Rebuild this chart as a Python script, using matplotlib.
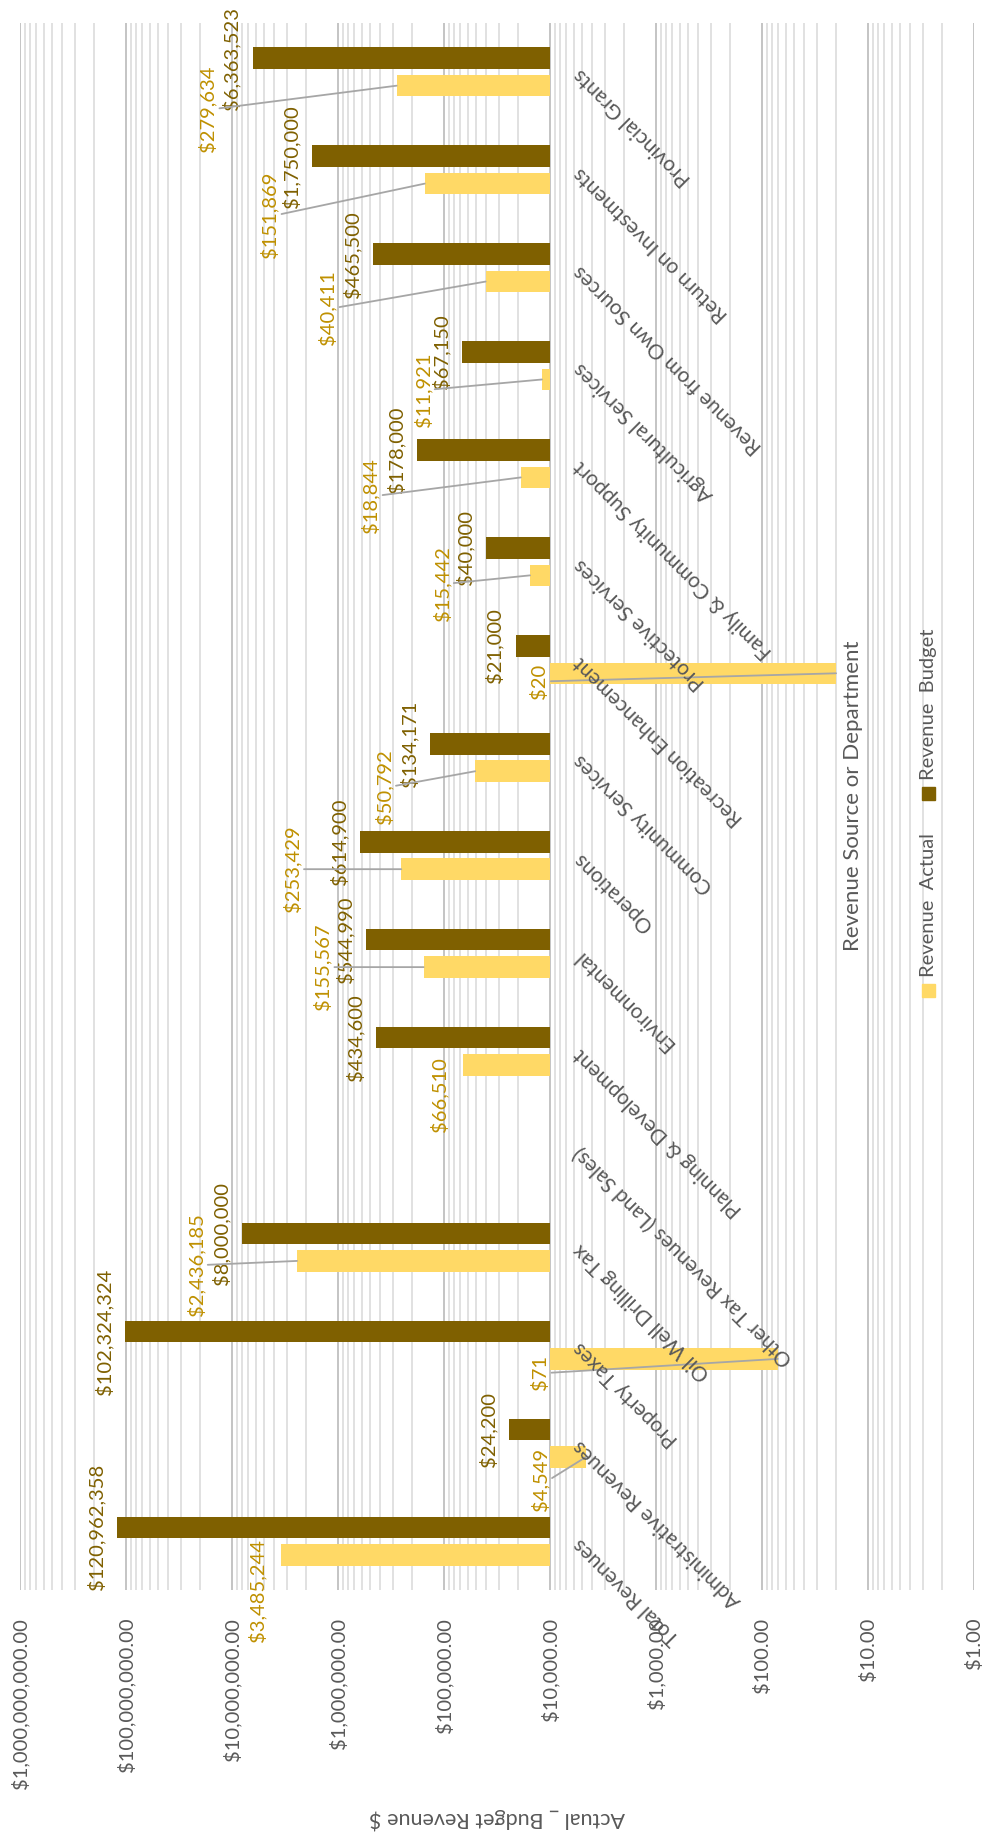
import numpy as np
import matplotlib.pyplot as plt
from matplotlib.ticker import FuncFormatter, LogLocator, NullFormatter
from matplotlib.patches import Rectangle

plt.rcParams['font.family'] = ['Lato', 'DejaVu Sans']

# categories listed bottom to top
categories = ["Total Revenues", "Administrative Revenues", "Property Taxes",
              "Oil Well Drilling Tax", "Other Tax Revenues (Land Sales)",
              "Planning & Development", "Environmental", "Operations",
              "Community Services", "Recreation Enhancement", "Protective Services",
              "Family & Community Support", "Agricultural Services",
              "Revenue from Own Sources", "Return on Investments", "Provincial Grants"]
actual = [3485244, 4549, 71, 2436185, np.nan, 66510, 155567, 253429, 50792,
          20, 15442, 18844, 11921, 40411, 151869, 279634]
budget = [120962358, 24200, 102324324, 8000000, np.nan, 434600, 544990, 614900,
          134171, 21000, 40000, 178000, 67150, 465500, 1750000, 6363523]

# where the (moved) actual labels sit, pixels from the bar end (dx, dy down), and leader line on/off
actual_label_pos = [(-14, 36, False), (-37, 23, True), (-229, 14, True), (-92, 4, True),
                    None, (-14, 30, False), (-92, 0, True), (-100, 0, True),
                    (-82, 15, True), (-288, 8, True), (-79, 8, True), (-141, 18, True),
                    (-110, 10, True), (-149, 26, True), (-146, 31, True), (-180, 23, True)]

BASE = 1e4
c_budget = "#7F6000"
c_actual = "#FFD966"
c_actual_txt = "#BF9000"
c_text = "#595959"
W, H = 987, 1837

fig = plt.figure(figsize=(W / 100, H / 100), dpi=100)
ax = fig.add_axes([20 / W, 1 - 1590 / H, 954 / W, 1567 / H])
ax.set_xscale("log")
ax.set_xlim(1e9, 1)
ax.set_ylim(-0.5, len(categories) - 0.5)

y = np.arange(len(categories))
b = np.array(budget, dtype=float)
a = np.array(actual, dtype=float)
ok_b = ~np.isnan(b)
ok_a = ~np.isnan(a)
ax.barh(y[ok_b] + 0.14, b[ok_b] - BASE, left=BASE, height=0.22, color=c_budget, zorder=2)
ax.barh(y[ok_a] - 0.14, a[ok_a] - BASE, left=BASE, height=0.22, color=c_actual, zorder=2)

# budget labels, just beyond the bar end
for i, v in enumerate(budget):
    if np.isnan(v):
        continue
    ax.annotate(f"${v:,.0f}", xy=(v, i + 0.14), xytext=(-12, 0), textcoords="offset pixels",
                rotation=90, ha="right", va="center", fontsize=14.5, color=c_budget, zorder=4)

# actual labels, dragged away with leader lines
for i, v in enumerate(actual):
    pos = actual_label_pos[i]
    if np.isnan(v) or pos is None:
        continue
    dx, dy, line = pos
    arrow = None
    if line:
        arrow = dict(arrowstyle="-", color="#A6A6A6", lw=1.3, shrinkA=0, shrinkB=0,
                     relpos=(1, 0.5))
    ax.annotate(f"${v:,.0f}", xy=(v, i - 0.14), xytext=(dx, -dy), textcoords="offset pixels",
                rotation=90, ha="right", va="center", fontsize=14.5, color=c_actual_txt,
                arrowprops=arrow, zorder=4)

# category labels, upside down at 135 degrees next to the 10,000 axis
for i, name in enumerate(categories):
    ax.annotate(name, xy=(BASE, i), xytext=(27, 0), textcoords="offset pixels",
                rotation=135, rotation_mode="anchor", ha="right", va="center",
                fontsize=15, color=c_text, zorder=4)

ax.set_xticks([10.0 ** k for k in range(10)])
ax.xaxis.set_minor_locator(LogLocator(base=10, subs=np.arange(2, 10), numticks=100))
ax.xaxis.set_minor_formatter(NullFormatter())
ax.xaxis.set_major_formatter(FuncFormatter(lambda v, p: f"${v:,.2f}"))
ax.tick_params(axis="x", which="both", length=0, pad=20, labelsize=14.5, labelcolor=c_text,
               labelrotation=90)
for lab in ax.get_xticklabels():
    lab.set_va("top")
ax.set_yticks([])
ax.grid(True, axis="x", which="major", color="#BFBFBF", lw=1.3)
ax.grid(True, axis="x", which="minor", color="#D9D9D9", lw=1.1)
ax.set_axisbelow(True)
for s in ax.spines.values():
    s.set_visible(False)

# titles
fig.text(497 / W, 1 - 1819 / H, "Actual _ Budget Revenue $", rotation=180,
         ha="center", va="center", fontsize=15.5, color=c_text)
fig.text(853 / W, 1 - 796 / H, "Revenue Source or Department", rotation=90,
         ha="center", va="center", fontsize=16, color=c_text)

# legend, drawn by hand because it is rotated
for sq_top, lab_bottom, col, lab in [(984, 977, c_actual, "Revenue  Actual"),
                                     (787, 780, c_budget, "Revenue  Budget")]:
    fig.patches.append(Rectangle((922 / W, 1 - (sq_top + 13) / H), 13 / W, 13 / H,
                                 transform=fig.transFigure, color=col, figure=fig))
    fig.text(929 / W, 1 - lab_bottom / H, lab, rotation=90, ha="center", va="bottom",
             fontsize=14.5, color=c_text)

fig.savefig("out.png", dpi=100)
